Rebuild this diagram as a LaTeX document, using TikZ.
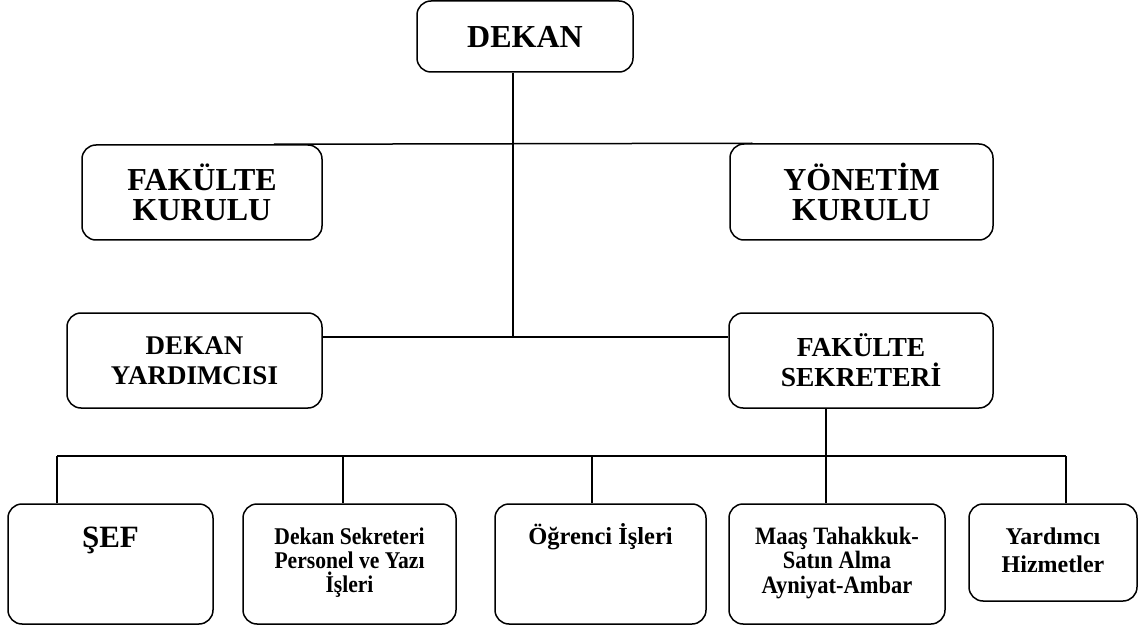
\documentclass[tikz,border=0pt]{standalone}
\usepackage{fontspec}
\setmainfont{Liberation Serif}
\newfontfamily\narrowserif{Liberation Serif}[FakeStretch=0.9]
\usetikzlibrary{positioning}

\begin{document}
\begin{tikzpicture}[x=1pt, y=-1pt, line width=1.5pt,
    unit/.style={draw, rounded corners=14pt, inner sep=0pt, align=center},
    unitlabel/.style={inner sep=0pt, align=center}]
  \useasboundingbox (0,0) rectangle (1141,631);

  % upper levels
  \node[unit, minimum width=216pt, minimum height=71pt, font=\fontsize{32}{34}\selectfont\bfseries] (dekan) at (525,36.5) {DEKAN};
  \node[unit, minimum width=240pt, minimum height=95pt, font=\fontsize{32}{30}\selectfont\bfseries] (fk) at (202,192.5) {FAKÜLTE\\KURULU};
  \node[unit, minimum width=263pt, minimum height=96pt, font=\fontsize{32}{30}\selectfont\bfseries] (yk) at (861.5,192) {YÖNETİM\\KURULU};
  \node[unit, minimum width=255pt, minimum height=95pt, font=\fontsize{27}{30}\selectfont\bfseries] (dy) at (194.5,360.5) {DEKAN\\YARDIMCISI};
  \node[unit, minimum width=264pt, minimum height=95pt, font=\fontsize{27.5}{30}\selectfont\bfseries] (fs) at (861,360.5) {FAKÜLTE\\SEKRETERİ};

  % units
  \node[unit, minimum width=205pt, minimum height=120pt] (sef) at (110.5,564) {};
  \node[unit, minimum width=213pt, minimum height=120pt] (dsek) at (349.5,564) {};
  \node[unit, minimum width=211pt, minimum height=120pt] (ogr) at (600.5,564) {};
  \node[unit, minimum width=216pt, minimum height=120pt] (maas) at (837,564) {};
  \node[unit, minimum width=168pt, minimum height=97pt] (yrd) at (1053,552.5) {};

  \node[unitlabel, below=21pt of sef.north, font=\fontsize{31}{30}\selectfont\bfseries] (sef-t) {\rule{0pt}{22pt}ŞEF};
  \node[unitlabel, below=18pt of dsek.north, font=\narrowserif\fontsize{24}{24}\selectfont\bfseries] (dsek-t) {\rule{0pt}{22pt}Dekan Sekreteri\\Personel ve Yazı\\İşleri};
  \node[unitlabel, below=18pt of ogr.north, font=\fontsize{24.5}{28}\selectfont\bfseries] (ogr-t) {\rule{0pt}{22pt}Öğrenci İşleri};
  \node[unitlabel, below=18pt of maas.north, font=\narrowserif\fontsize{25}{24.5}\selectfont\bfseries] (maas-t) {\rule{0pt}{22pt}Maaş Tahakkuk-\\Satın Alma\\Ayniyat-Ambar};
  \node[unitlabel, below=18pt of yrd.north, font=\fontsize{24}{28}\selectfont\bfseries] (yrd-t) {\rule{0pt}{22pt}Yardımcı\\Hizmetler};

  % connectors
  \coordinate (mid) at (513,337);
  \coordinate (bus) at (826,456);
  \coordinate (d1) at (57,456);
  \coordinate (d2) at (343,456);
  \coordinate (d3) at (592,456);
  \coordinate (d5) at (1066,456);

  \draw (dekan.south -| mid) -- (mid);
  \draw ([xshift=-49pt]fk.north east) -- ([xshift=23pt]yk.north west);
  \draw (dy.east |- mid) -- (fs.west |- mid);
  \draw (fs.south -| bus) -- (bus |- maas.north);
  \draw (d1) -- (d5);
  \draw (d1) -- (d1 |- sef.north);
  \draw (d2) -- (d2 |- dsek.north);
  \draw (d3) -- (d3 |- ogr.north);
  \draw (d5) -- (d5 |- yrd.north);
\end{tikzpicture}
\end{document}
